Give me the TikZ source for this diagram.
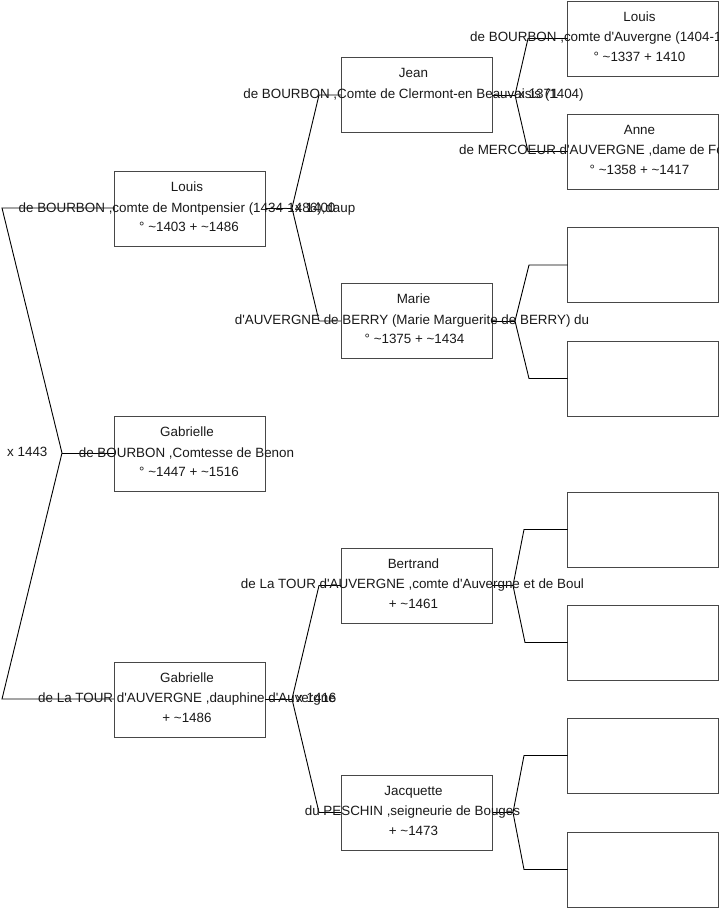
\documentclass[tikz,border=0pt]{standalone}
\usepackage{fontspec}
\setmainfont{Liberation Sans}
\usetikzlibrary{calc}
\newcommand\ap{\textquotesingle}
\begin{document}
\begin{tikzpicture}[x=1pt,y=-1pt,
  person/.style={draw=black!72, line width=1pt, minimum width=151pt, minimum height=75pt, inner sep=0pt, outer sep=0pt},
  txt/.style={font=\fontsize{13.4}{15}\selectfont, inner sep=0pt, text=black!90, anchor=base},
  link/.style={draw=black, line width=0.9pt}]
\useasboundingbox (0,0) rectangle (719,908);
\clip (0,0) rectangle (719,908);
% generation 1
\node[person] (louis1) at (189.5,208.5) {};
\node[person] (gab1) at (189.5,453.5) {};
\node[person] (gab2) at (189.5,699.5) {};
% generation 2
\node[person] (jean) at (416.5,95) {};
\node[person] (marie) at (416.5,321) {};
\node[person] (bertrand) at (416.5,585.5) {};
\node[person] (jacq) at (416.5,812.5) {};
% generation 3
\node[person] (louis3) at (643,38.5) {};
\node[person] (anne) at (643,151.5) {};
\node[person] (e1) at (643,265) {};
\node[person] (e2) at (643,378.5) {};
\node[person] (e3) at (643,529.5) {};
\node[person] (e4) at (643,642.5) {};
\node[person] (e5) at (643,755.5) {};
\node[person] (e6) at (643,869.5) {};
% connectors
\coordinate (r) at (62,453);
\coordinate (ra) at (2,208);
\coordinate (rb) at (2,699);
\draw[link] (louis1.west |- 0,208) -- (ra) -- (r) -- (rb) -- (gab2.west |- 0,699);
\draw[link] (r) -- (gab1.west |- 0,453);

\coordinate (f1) at (292,208);
\coordinate (f1a) at (319,95);
\coordinate (f1b) at (319,321);
\draw[link] (louis1.east |- 0,208) -- (f1);
\draw[link] (f1) -- (f1a) -- (jean.west);
\draw[link] (f1) -- (f1b) -- (marie.west);

\coordinate (f2) at (292,699);
\coordinate (f2a) at (319,585.5);
\coordinate (f2b) at (319,812.5);
\draw[link] (gab2.east |- 0,699) -- (f2);
\draw[link] (f2) -- (f2a) -- (bertrand.west);
\draw[link] (f2) -- (f2b) -- (jacq.west);

\coordinate (f3) at (515,95);
\coordinate (f3a) at (528,38.5);
\coordinate (f3b) at (528,151.5);
\draw[link] (jean.east) -- (f3);
\draw[link] (f3) -- (f3a) -- (louis3.west);
\draw[link] (f3) -- (f3b) -- (anne.west);

\coordinate (f4) at (515,321);
\coordinate (f4a) at (529,265);
\coordinate (f4b) at (529,378.5);
\draw[link] (marie.east) -- (f4);
\draw[link] (f4) -- (f4a) -- (e1.west);
\draw[link] (f4) -- (f4b) -- (e2.west);

\coordinate (f5) at (513,585.5);
\coordinate (f5a) at (524,529.5);
\coordinate (f5b) at (525,642.5);
\draw[link] (bertrand.east) -- (f5);
\draw[link] (f5) -- (f5a) -- (e3.west);
\draw[link] (f5) -- (f5b) -- (e4.west);

\coordinate (f6) at (513,812.5);
\coordinate (f6a) at (524,755.5);
\coordinate (f6b) at (524,869.5);
\draw[link] (jacq.east) -- (f6);
\draw[link] (f6) -- (f6a) -- (e5.west);
\draw[link] (f6) -- (f6b) -- (e6.west);

% texts generation 1
\node[txt] (t1a) at (187,191) {Louis};
\node[txt] (t1b) at (187,212) {de BOURBON ,comte de Montpensier (1434-1486),daup};
\node[txt] (t1c) at (189,231) {° \textasciitilde1403 + \textasciitilde1486};
\node[txt] (t2a) at (187,436) {Gabrielle};
\node[txt] (t2b) at (186.5,457) {de BOURBON ,Comtesse de Benon};
\node[txt] (t2c) at (189,476) {° \textasciitilde1447 + \textasciitilde1516};
\node[txt] (t3a) at (187,682) {Gabrielle};
\node[txt] (t3b) at (187,702.5) {de La TOUR d\ap AUVERGNE ,dauphine d\ap Auvergne};
\node[txt] (t3c) at (187,722) {+ \textasciitilde1486};
% texts generation 2
\node[txt] (t4a) at (413.5,77.5) {Jean};
\node[txt] (t4b) at (413.5,98) {de BOURBON ,Comte de Clermont-en Beauvaisis (1404)};
\node[txt] (t5a) at (413.5,303.5) {Marie};
\node[txt] (t5b) at (412,324) {d\ap AUVERGNE de BERRY (Marie Marguerite de BERRY) du};
\node[txt] (t5c) at (414.5,343) {° \textasciitilde1375 + \textasciitilde1434};
\node[txt] (t6a) at (413.5,568) {Bertrand};
\node[txt] (t6b) at (412.5,588.5) {de La TOUR d\ap AUVERGNE ,comte d\ap Auvergne et de Boul};
\node[txt] (t6c) at (413.5,608) {+ \textasciitilde1461};
\node[txt] (t7a) at (413.5,795) {Jacquette};
\node[txt] (t7b) at (412.5,815.5) {du PESCHIN ,seigneurie de Bouges};
\node[txt] (t7c) at (413.5,835) {+ \textasciitilde1473};
% texts generation 3
\node[txt] (t8a) at (639.5,21) {Louis};
\node[txt, anchor=base west] (t8b) at (470,41) {de BOURBON ,comte d\ap Auvergne (1404-1410)};
\node[txt] (t8c) at (639.5,61) {° \textasciitilde1337 + 1410};
\node[txt] (t9a) at (639.5,134) {Anne};
\node[txt, anchor=base west] (t9b) at (459,154) {de MERCOEUR d\ap AUVERGNE ,dame de Fo};
\node[txt] (t9c) at (639.5,174) {° \textasciitilde1358 + \textasciitilde1417};
% marriages
\node[txt, anchor=base west] (m1) at (7,456) {x 1443};
\node[txt, anchor=base west] (m2) at (295,212) {x 1400};
\node[txt, anchor=base west] (m3) at (518,98) {x 1371};
\node[txt, anchor=base west] (m4) at (296,702.5) {x 1416};
\end{tikzpicture}
\end{document}
